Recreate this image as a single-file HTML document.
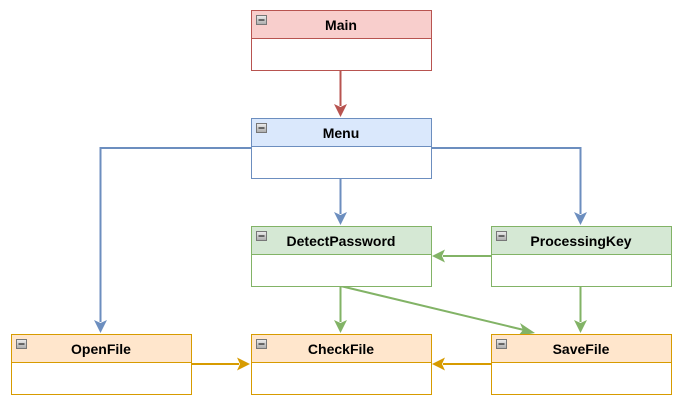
<!DOCTYPE html>
<html><head><meta charset="utf-8"><style>html,body{margin:0;padding:0;background:#fff}svg{display:block}</style></head>
<body>
<svg width="683" height="407" viewBox="0 0 683 407" xmlns="http://www.w3.org/2000/svg" font-family="Liberation Sans, Arial, sans-serif">
<defs>
<linearGradient id="g" x1="0" y1="0" x2="0" y2="1"><stop offset="0" stop-color="#eee"/><stop offset="1" stop-color="#aaa"/></linearGradient>
</defs>
<g stroke-width="2" fill="none">
<path d="M340.5 70V106" stroke="#b85450"/>
<path d="M340.5 178V214" stroke="#6c8ebf"/>
<path d="M251 148H100.5V322" stroke="#6c8ebf"/>
<path d="M431 148H580.5V214" stroke="#6c8ebf"/>
<path d="M491 256H443" stroke="#82b366"/>
<path d="M340.5 286V322" stroke="#82b366"/>
<path d="M340.5 286L524 330" stroke="#82b366"/>
<path d="M580.5 286V322" stroke="#82b366"/>
<path d="M191 364H239" stroke="#d79b00"/>
<path d="M491 364H443" stroke="#d79b00"/>
</g>
<g>
<path d="M334 104L340.5 117L347 104L340.5 107Z" fill="#b85450"/>
<path d="M334 212L340.5 225L347 212L340.5 215Z" fill="#6c8ebf"/>
<path d="M94 320L100.5 333L107 320L100.5 323Z" fill="#6c8ebf"/>
<path d="M574 212L580.5 225L587 212L580.5 215Z" fill="#6c8ebf"/>
<path d="M445 249.5L432 256L445 262.5L442 256Z" fill="#82b366"/>
<path d="M334 320L340.5 333L347 320L340.5 323Z" fill="#82b366"/>
<path d="M574 320L580.5 333L587 320L580.5 323Z" fill="#82b366"/>
<path d="M520 323L535 333L518 336L523 330Z" fill="#82b366"/>
<path d="M237 357.5L250 364L237 370.5L240 364Z" fill="#d79b00"/>
<path d="M445 357.5L432 364L445 370.5L442 364Z" fill="#d79b00"/>
</g>
<g font-size="14" font-weight="bold" text-anchor="middle" fill="#000">
<!-- boxes -->
<g>
<rect x="251.5" y="10.5" width="180" height="60" fill="#fff" stroke="#b85450"/>
<rect x="251.5" y="10.5" width="180" height="28" fill="#f8cecc" stroke="#b85450"/>
<text x="341" y="30">Main</text>
</g>
<g>
<rect x="251.5" y="118.5" width="180" height="60" fill="#fff" stroke="#6c8ebf"/>
<rect x="251.5" y="118.5" width="180" height="28" fill="#dae8fc" stroke="#6c8ebf"/>
<text x="341" y="138">Menu</text>
</g>
<g>
<rect x="251.5" y="226.5" width="180" height="60" fill="#fff" stroke="#82b366"/>
<rect x="251.5" y="226.5" width="180" height="28" fill="#d5e8d4" stroke="#82b366"/>
<text x="341" y="246">DetectPassword</text>
</g>
<g>
<rect x="491.5" y="226.5" width="180" height="60" fill="#fff" stroke="#82b366"/>
<rect x="491.5" y="226.5" width="180" height="28" fill="#d5e8d4" stroke="#82b366"/>
<text x="581" y="246">ProcessingKey</text>
</g>
<g>
<rect x="11.5" y="334.5" width="180" height="60" fill="#fff" stroke="#d79b00"/>
<rect x="11.5" y="334.5" width="180" height="28" fill="#ffe6cc" stroke="#d79b00"/>
<text x="101" y="354">OpenFile</text>
</g>
<g>
<rect x="251.5" y="334.5" width="180" height="60" fill="#fff" stroke="#d79b00"/>
<rect x="251.5" y="334.5" width="180" height="28" fill="#ffe6cc" stroke="#d79b00"/>
<text x="341" y="354">CheckFile</text>
</g>
<g>
<rect x="491.5" y="334.5" width="180" height="60" fill="#fff" stroke="#d79b00"/>
<rect x="491.5" y="334.5" width="180" height="28" fill="#ffe6cc" stroke="#d79b00"/>
<text x="581" y="354">SaveFile</text>
</g>
</g>
<g stroke="#777" stroke-width="1">
<rect x="256.5" y="15.5" width="10" height="9" fill="url(#g)"/><path d="M258.5 20H264.5" stroke="#000"/>
<rect x="256.5" y="123.5" width="10" height="9" fill="url(#g)"/><path d="M258.5 128H264.5" stroke="#000"/>
<rect x="256.5" y="231.5" width="10" height="9" fill="url(#g)"/><path d="M258.5 236H264.5" stroke="#000"/>
<rect x="496.5" y="231.5" width="10" height="9" fill="url(#g)"/><path d="M498.5 236H504.5" stroke="#000"/>
<rect x="16.5" y="339.5" width="10" height="9" fill="url(#g)"/><path d="M18.5 344H24.5" stroke="#000"/>
<rect x="256.5" y="339.5" width="10" height="9" fill="url(#g)"/><path d="M258.5 344H264.5" stroke="#000"/>
<rect x="496.5" y="339.5" width="10" height="9" fill="url(#g)"/><path d="M498.5 344H504.5" stroke="#000"/>
</g>
</svg>
</body></html>
